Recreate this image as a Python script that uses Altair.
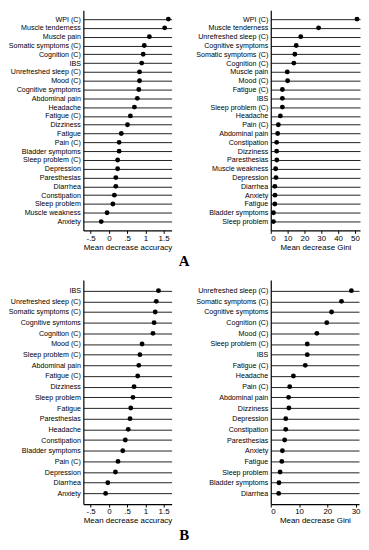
import altair as alt
import pandas as pd

# Panel A - Mean decrease accuracy
a_acc_labels = ["WPI (C)", "Muscle tenderness", "Muscle pain", "Somatic symptoms (C)", "Cognition (C)",
                "IBS", "Unrefreshed sleep (C)", "Mood (C)", "Cognitive symptoms", "Abdominal pain",
                "Headache", "Fatigue (C)", "Dizziness", "Fatigue", "Pain (C)", "Bladder symptoms",
                "Sleep problem (C)", "Depression", "Paresthesias", "Diarrhea", "Constipation",
                "Sleep problem", "Muscle weakness", "Anxiety"]
a_acc_values = [1.63, 1.53, 1.11, 0.97, 0.94, 0.90, 0.84, 0.84, 0.82, 0.78, 0.70, 0.59, 0.51,
                0.34, 0.28, 0.28, 0.24, 0.24, 0.19, 0.19, 0.15, 0.11, -0.05, -0.21]

# Panel A - Mean decrease Gini
a_gini_labels = ["WPI (C)", "Muscle tenderness", "Unrefreshed sleep (C)", "Cognitive symptoms",
                 "Somatic symptoms (C)", "Cognition (C)", "Muscle pain", "Mood (C)", "Fatigue (C)",
                 "IBS", "Sleep problem (C)", "Headache", "Pain (C)", "Abdominal pain", "Constipation",
                 "Dizziness", "Paresthesias", "Muscle weakness", "Depression", "Diarrhea", "Anxiety",
                 "Fatigue", "Bladder symptoms", "Sleep problem"]
a_gini_values = [51.2, 28.4, 17.8, 15.1, 14.3, 13.7, 9.8, 10.0, 6.9, 6.9, 6.9, 5.7, 4.5, 4.1,
                 3.5, 3.5, 3.6, 2.9, 3.1, 2.4, 2.5, 2.4, 1.6, 1.6]

# Panel B - Mean decrease accuracy
b_acc_labels = ["IBS", "Unrefreshed sleep (C)", "Somatic symptoms (C)", "Cognitive symtoms",
                "Cognition (C)", "Mood (C)", "Sleep problem (C)", "Abdominal pain", "Fatigue (C)",
                "Dizziness", "Sleep problem", "Fatigue", "Paresthesias", "Headache", "Constipation",
                "Bladder symptoms", "Pain (C)", "Depression", "Diarrhea", "Anxiety"]
b_acc_values = [1.36, 1.30, 1.27, 1.24, 1.21, 0.91, 0.85, 0.82, 0.79, 0.69, 0.66, 0.60, 0.58,
                0.53, 0.45, 0.38, 0.25, 0.18, -0.03, -0.09]

# Panel B - Mean decrease Gini
b_gini_labels = ["Unrefreshed sleep (C)", "Somatic symptoms (C)", "Cognitive symptoms", "Cognition (C)",
                 "Mood (C)", "Sleep problem (C)", "IBS", "Fatigue (C)", "Headache", "Pain (C)",
                 "Abdominal pain", "Dizziness", "Depression", "Constipation", "Paresthesias",
                 "Anxiety", "Fatigue", "Sleep problem", "Bladder symptoms", "Diarrhea"]
b_gini_values = [28.5, 25.0, 21.5, 19.8, 16.3, 12.9, 12.9, 12.2, 8.0, 6.7, 6.3, 6.4, 5.3, 5.3,
                 4.9, 4.1, 3.9, 3.3, 2.9, 2.8]

acc_ticks = [-0.5, 0, 0.5, 1, 1.5]
acc_label_expr = "(datum.value < 0 ? '-' : '') + replace(toString(abs(datum.value)), '0.', '.')"

FONT = "Liberation Sans"


def panel(labels, values, domain, ticks, title, ext, width, height, pad, label_expr=None):
    df = pd.DataFrame({"feature": labels, "value": values})
    xaxis_kw = dict(values=ticks, title=title, grid=False, tickSize=3, labelPadding=1,
                    labelFontSize=8, titleFontSize=8, titleFontWeight="normal", titlePadding=1,
                    domainColor="black", tickColor="black", labelColor="black", titleColor="black",
                    labelFont=FONT, titleFont=FONT, domainWidth=1.2)
    if label_expr:
        xaxis_kw["labelExpr"] = label_expr
    return alt.Chart(df).mark_circle(size=24, color="black", opacity=1).encode(
        x=alt.X("value:Q", scale=alt.Scale(domain=domain, nice=False, zero=False),
                axis=alt.Axis(**xaxis_kw)),
        y=alt.Y("feature:N", sort=labels, scale=alt.Scale(type="point", padding=pad),
                axis=alt.Axis(title=None, ticks=False, grid=True, gridColor="#222222",
                              gridWidth=1, gridOpacity=1, labelFontSize=7.2, labelFont=FONT,
                              labelColor="black", labelPadding=3, domainColor="black",
                              domainWidth=1.2, minExtent=ext, maxExtent=ext, labelLimit=200)),
    ).properties(width=width, height=height)


tl = panel(a_acc_labels, a_acc_values, [-0.7, 1.72], acc_ticks, "Mean decrease accuracy",
           75, 89, 222, 1.0, acc_label_expr)
tr = panel(a_gini_labels, a_gini_values, [0, 53], [0, 10, 20, 30, 40, 50], "Mean decrease Gini",
           85, 90, 222, 1.0)
bl = panel(b_acc_labels, b_acc_values, [-0.7, 1.72], acc_ticks, "Mean decrease accuracy",
           75, 89, 226, 1.0, acc_label_expr)
br = panel(b_gini_labels, b_gini_values, [0, 31.2], [0, 10, 20, 30], "Mean decrease Gini",
           85, 89, 226, 1.0)

title_kw = dict(orient="bottom", anchor="middle", fontSize=15, font="Liberation Serif",
                fontWeight="bold", color="black", offset=3)

row1 = alt.hconcat(tl, tr, spacing=14).properties(title=alt.TitleParams(text="A", **title_kw))
row2 = alt.hconcat(bl, br, spacing=14).properties(title=alt.TitleParams(text="B", **title_kw))

chart = alt.vconcat(row1, row2, spacing=11).properties(padding=0).configure_view(strokeWidth=0)

chart.save("out.html", embed_options={"renderer": "svg", "actions": False})
